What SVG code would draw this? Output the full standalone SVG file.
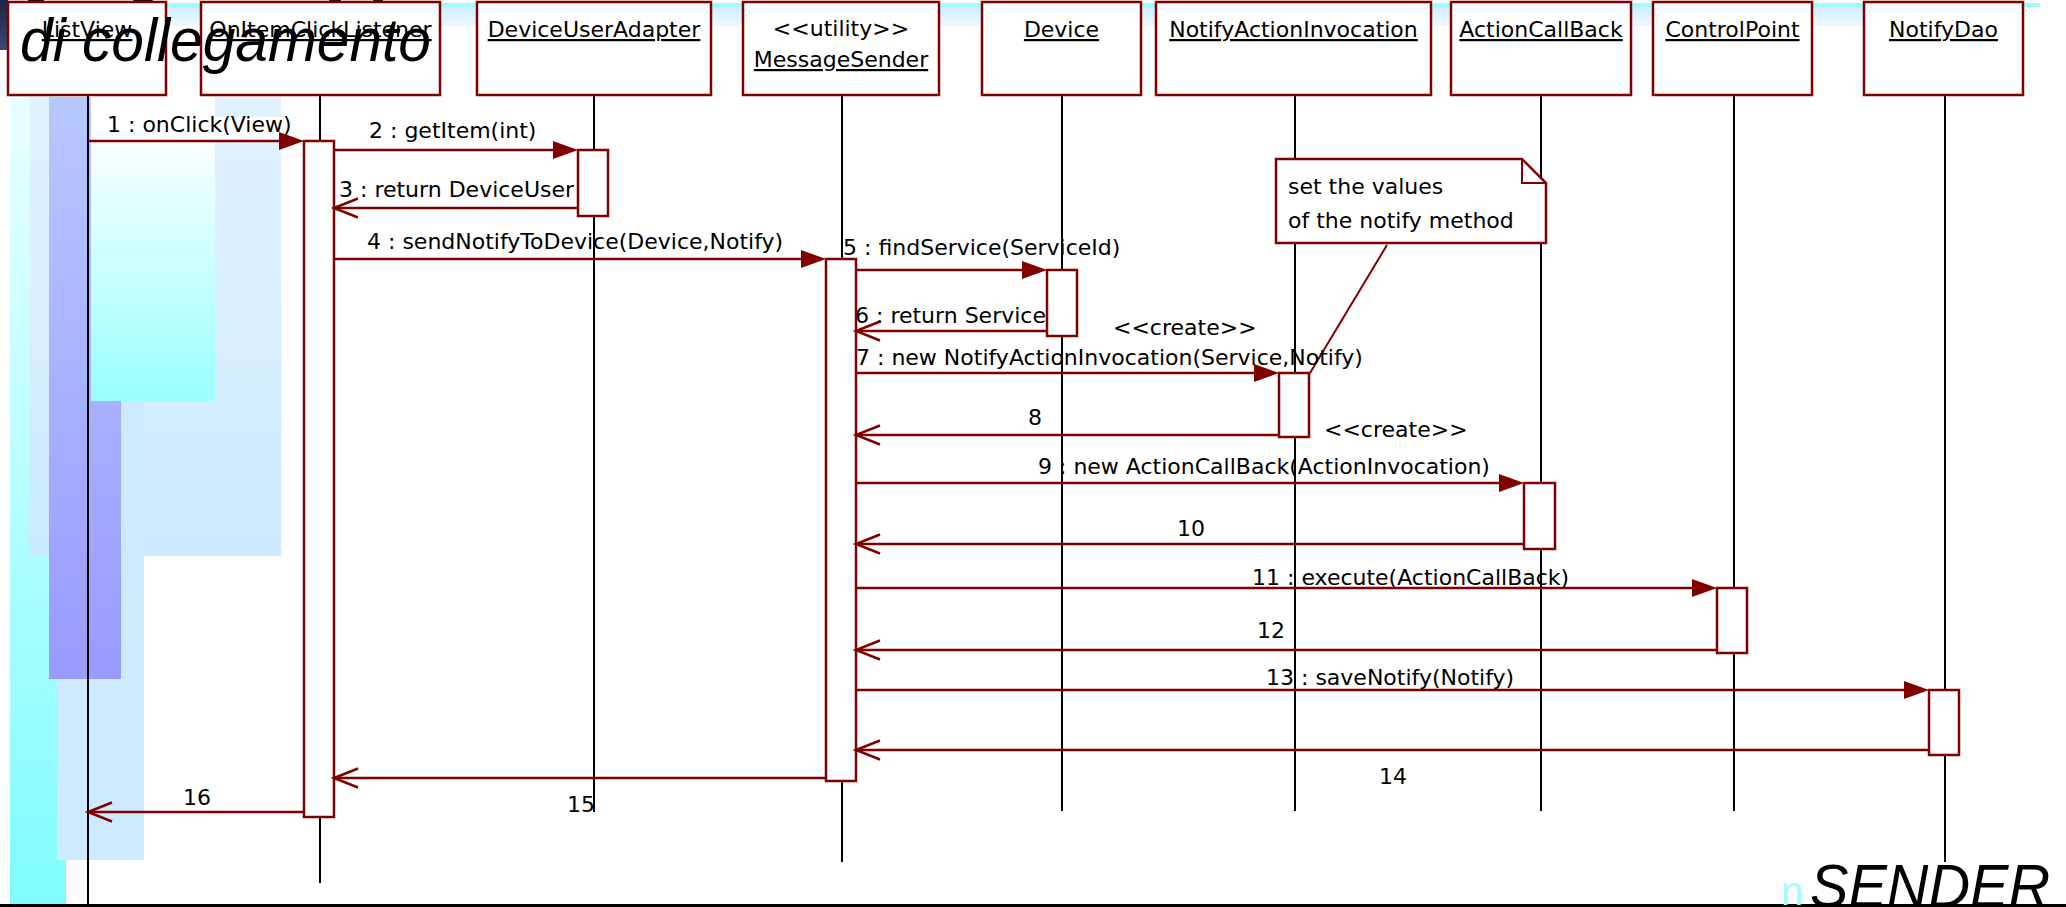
<svg xmlns="http://www.w3.org/2000/svg" width="2066" height="907" viewBox="0 0 2066 907">
<style>
.box{fill:#fff;stroke:#800000;stroke-width:2.5}
.act{fill:#fff;stroke:#800000;stroke-width:2.5}
.life{stroke:#000;stroke-width:2;fill:none}
.msg{stroke:#800000;stroke-width:2.5;fill:none}
.head{fill:#800000;stroke:none}
.open{stroke:#800000;stroke-width:2.5;fill:none}
text{font-family:"DejaVu Sans",Verdana,sans-serif;font-size:22px;fill:#000}
.hd{text-anchor:middle}
.ul{text-decoration:underline}
.big{font-family:"Liberation Sans",Arial,sans-serif;font-style:italic}
</style>
<defs>
<linearGradient id="gCyanCol" x1="0" y1="0" x2="0" y2="1"><stop offset="0" stop-color="#eaffff"/><stop offset="1" stop-color="#7ffcff"/></linearGradient>
<linearGradient id="gLight" x1="0" y1="0" x2="0" y2="1"><stop offset="0" stop-color="#e2f2ff"/><stop offset="1" stop-color="#cceaff"/></linearGradient>
<linearGradient id="gBlue" x1="0" y1="0" x2="0" y2="1"><stop offset="0" stop-color="#b6c8ff"/><stop offset="1" stop-color="#9a9aff"/></linearGradient>
<linearGradient id="gCyan" x1="0" y1="0" x2="0" y2="1"><stop offset="0.1" stop-color="#ffffff"/><stop offset="1" stop-color="#99ffff"/></linearGradient>
<linearGradient id="gTop" x1="0" y1="0" x2="0" y2="1"><stop offset="0" stop-color="#cfeeff"/><stop offset="1" stop-color="#eef8ff"/></linearGradient>
<linearGradient id="gCorner" x1="0" y1="0" x2="0" y2="1"><stop offset="0" stop-color="#1c2444"/><stop offset="1" stop-color="#3a4a70"/></linearGradient>
</defs>

<g id="background">
<rect x="0" y="6" width="1870" height="20" fill="url(#gTop)"/>
<rect x="0" y="3" width="2040" height="4" fill="#9ffcff"/>
<rect x="0" y="0" width="8" height="50" fill="url(#gCorner)"/>
<ellipse cx="36" cy="0" rx="8" ry="4" fill="#111"/>
<ellipse cx="143" cy="0" rx="10" ry="3" fill="#111"/>
<ellipse cx="335" cy="0" rx="6" ry="3" fill="#111"/>
<ellipse cx="378" cy="0" rx="5" ry="3" fill="#111"/>
<rect x="10" y="95" width="56" height="812" fill="url(#gCyanCol)"/>
<rect x="30" y="97" width="251" height="459" fill="url(#gLight)"/>
<rect x="57" y="97" width="87" height="763" fill="#cdeafe"/>
<rect x="49" y="97" width="72" height="582" fill="url(#gBlue)"/>
<rect x="91" y="97" width="124" height="304" fill="url(#gCyan)"/>
<rect x="91" y="117" width="190" height="24" fill="#fff"/>
<rect x="0" y="904" width="2066" height="3" fill="#000"/>
</g>

<g id="lifelines">
<line class="life" x1="88" y1="95" x2="88" y2="904"/>
<line class="life" x1="320" y1="95" x2="320" y2="883"/>
<line class="life" x1="594" y1="95" x2="594" y2="812"/>
<line class="life" x1="842" y1="95" x2="842" y2="862"/>
<line class="life" x1="1062" y1="95" x2="1062" y2="811"/>
<line class="life" x1="1295" y1="95" x2="1295" y2="811"/>
<line class="life" x1="1541" y1="95" x2="1541" y2="811"/>
<line class="life" x1="1734" y1="95" x2="1734" y2="811"/>
<line class="life" x1="1945" y1="95" x2="1945" y2="862"/>
</g>

<g id="activations">
<rect class="act" x="304" y="141" width="30" height="676"/>
<rect class="act" x="578" y="150" width="30" height="66"/>
<rect class="act" x="826" y="259" width="30" height="522"/>
<rect class="act" x="1047" y="270" width="30" height="66"/>
<rect class="act" x="1279" y="373" width="30" height="64"/>
<rect class="act" x="1524" y="483" width="31" height="66"/>
<rect class="act" x="1717" y="588" width="30" height="65"/>
<rect class="act" x="1929" y="690" width="30" height="65"/>
</g>

<g id="connectors">
<line class="msg" x1="88" y1="141" x2="290" y2="141"/><polygon class="head" points="304,141 279,132 279,150"/>
<line class="msg" x1="334" y1="150" x2="564" y2="150"/><polygon class="head" points="578,150 553,141 553,159"/>
<line class="msg" x1="578" y1="208" x2="335" y2="208"/><polyline class="open" points="358,198.5 334,208 358,217.5"/>
<line class="msg" x1="334" y1="259" x2="812" y2="259"/><polygon class="head" points="826,259 801,250 801,268"/>
<line class="msg" x1="856" y1="270" x2="1033" y2="270"/><polygon class="head" points="1047,270 1022,261 1022,279"/>
<line class="msg" x1="1047" y1="331" x2="857" y2="331"/><polyline class="open" points="880,321.5 856,331 880,340.5"/>
<line class="msg" x1="856" y1="373" x2="1265" y2="373"/><polygon class="head" points="1279,373 1254,364 1254,382"/>
<line class="msg" x1="1279" y1="435" x2="857" y2="435"/><polyline class="open" points="880,425.5 856,435 880,444.5"/>
<line class="msg" x1="856" y1="483" x2="1510" y2="483"/><polygon class="head" points="1524,483 1499,474 1499,492"/>
<line class="msg" x1="1524" y1="544" x2="857" y2="544"/><polyline class="open" points="880,534.5 856,544 880,553.5"/>
<line class="msg" x1="856" y1="588" x2="1703" y2="588"/><polygon class="head" points="1717,588 1692,579 1692,597"/>
<line class="msg" x1="1717" y1="650" x2="857" y2="650"/><polyline class="open" points="880,640.5 856,650 880,659.5"/>
<line class="msg" x1="856" y1="690" x2="1915" y2="690"/><polygon class="head" points="1929,690 1904,681 1904,699"/>
<line class="msg" x1="1929" y1="750" x2="857" y2="750"/><polyline class="open" points="880,740.5 856,750 880,759.5"/>
<line class="msg" x1="826" y1="778" x2="335" y2="778"/><polyline class="open" points="358,768.5 334,778 358,787.5"/>
<line class="msg" x1="304" y1="812" x2="89" y2="812"/><polyline class="open" points="112,802.5 88,812 112,821.5"/>
<line class="msg" x1="1387" y1="245" x2="1310" y2="373" style="stroke-width:2"/>
</g>

<g id="labels">
<text x="107" y="132">1 : onClick(View)</text>
<text x="369" y="138">2 : getItem(int)</text>
<text x="339" y="197">3 : return DeviceUser</text>
<text x="367" y="249">4 : sendNotifyToDevice(Device,Notify)</text>
<text x="843" y="255">5 : findService(ServiceId)</text>
<text x="855" y="323">6 : return Service</text>
<text x="1113" y="335">&lt;&lt;create&gt;&gt;</text>
<text x="856" y="365">7 : new NotifyActionInvocation(Service,Notify)</text>
<text x="1028" y="425">8</text>
<text x="1324" y="437">&lt;&lt;create&gt;&gt;</text>
<text x="1038" y="474">9 : new ActionCallBack(ActionInvocation)</text>
<text x="1177" y="536">10</text>
<text x="1252" y="585">11 : execute(ActionCallBack)</text>
<text x="1257" y="638">12</text>
<text x="1266" y="685">13 : saveNotify(Notify)</text>
<text x="1379" y="784">14</text>
<text x="567" y="812">15</text>
<text x="183" y="805">16</text>
</g>

<g id="node-listview"><rect class="box" x="8" y="2" width="158" height="93"/><text class="hd ul" x="87" y="37">ListView</text></g>
<g id="node-onitemclicklistener"><rect class="box" x="201" y="2" width="239" height="93"/><text class="hd ul" x="320.5" y="37">OnItemClickListener</text></g>
<g id="node-deviceuseradapter"><rect class="box" x="477" y="2" width="234" height="93"/><text class="hd ul" x="594" y="37">DeviceUserAdapter</text></g>
<g id="node-messagesender"><rect class="box" x="743" y="2" width="196" height="93"/><text class="hd" x="841" y="36">&lt;&lt;utility&gt;&gt;</text><text class="hd ul" x="841" y="67">MessageSender</text></g>
<g id="node-device"><rect class="box" x="982" y="2" width="159" height="93"/><text class="hd ul" x="1061.5" y="37">Device</text></g>
<g id="node-notifyactioninvocation"><rect class="box" x="1156" y="2" width="275" height="93"/><text class="hd ul" x="1293.5" y="37">NotifyActionInvocation</text></g>
<g id="node-actioncallback"><rect class="box" x="1451" y="2" width="180" height="93"/><text class="hd ul" x="1541" y="37">ActionCallBack</text></g>
<g id="node-controlpoint"><rect class="box" x="1653" y="2" width="159" height="93"/><text class="hd ul" x="1732.5" y="37">ControlPoint</text></g>
<g id="node-notifydao"><rect class="box" x="1864" y="2" width="159" height="93"/><text class="hd ul" x="1943.5" y="37">NotifyDao</text></g>

<g id="note">
<polygon class="box" points="1276,159 1522,159 1546,183 1546,243 1276,243"/>
<polyline class="open" style="stroke-width:2" points="1522,159 1522,183 1546,183"/>
<text x="1288" y="194">set the values</text>
<text x="1288" y="228">of the notify method</text>
</g>

<g id="overlay">
<text class="big" x="20" y="61" style="font-size:61px" textLength="411" lengthAdjust="spacingAndGlyphs">di collegamento</text>
<text x="1781" y="905" style="font-family:'Liberation Sans',Arial,sans-serif;font-size:40px;fill:#9ffcff">n</text>
<text class="big" x="1810" y="907" style="font-size:62px" textLength="240" lengthAdjust="spacingAndGlyphs">SENDER</text>
</g>
</svg>
